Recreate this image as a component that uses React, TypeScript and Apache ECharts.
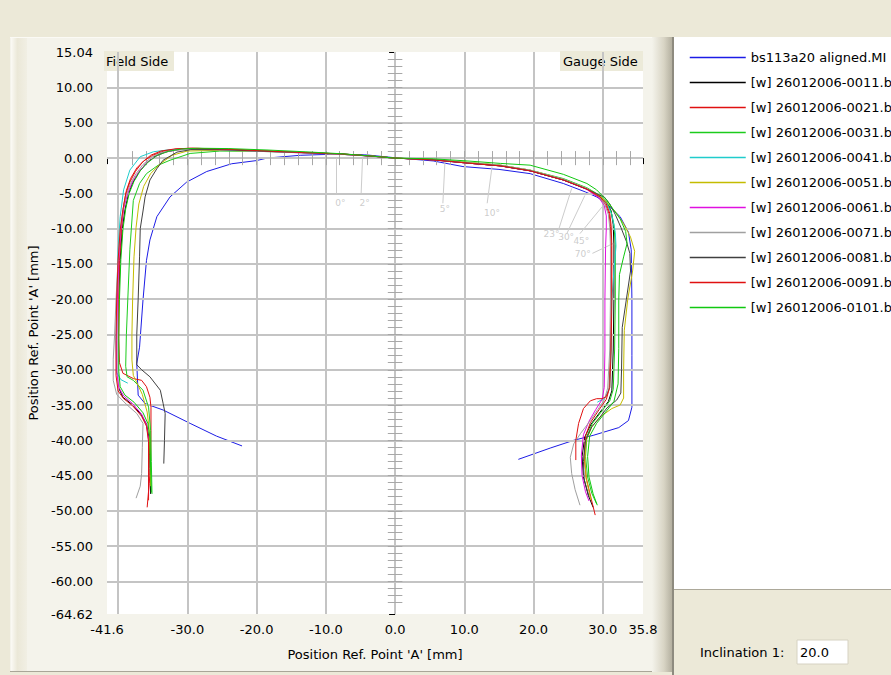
import React, { useEffect, useRef } from "react";
import * as echarts from "echarts";

const FONT = "'DejaVu Sans', sans-serif";

const xTickLabels = [-41.6, -30, -20, -10, 0, 10, 20, 30, 35.8];
const yTickLabels = [15.04, 10, 5, 0, -5, -10, -15, -20, -25, -30, -35, -40, -45, -50, -55, -60, -64.62];
const xGridLines = [-40, -30, -20, -10, 0, 10, 20, 30];
const yGridLines = [10, 5, 0, -5, -10, -15, -20, -25, -30, -35, -40, -45, -50, -55, -60];

const seriesNames = [
  "bs113a20 aligned.MI",
  "[w] 26012006-0011.b",
  "[w] 26012006-0021.b",
  "[w] 26012006-0031.b",
  "[w] 26012006-0041.b",
  "[w] 26012006-0051.b",
  "[w] 26012006-0061.b",
  "[w] 26012006-0071.b",
  "[w] 26012006-0081.b",
  "[w] 26012006-0091.b",
  "[w] 26012006-0101.b",
];
const seriesColors = ["#1c1ce6", "#000000", "#e01010", "#1ccc1c", "#20cccc", "#c4bc00", "#e010e0", "#a0a0a0", "#404040", "#e01010", "#10c810"];

const profileRef = [[-22.1,-40.8],[-25.8,-39.4],[-29.6,-37.6],[-33.5,-35.7],[-36.1,-34.8],[-37.1,-33.6],[-37.3,-29.1],[-36.9,-26.8],[-36.4,-20.1],[-35.9,-14.5],[-35.4,-11.6],[-34.4,-8.3],[-32.5,-5.5],[-30.1,-3.4],[-27.2,-1.9],[-23.6,-0.8],[-20.0,-0.35],[-18.5,0.0],[-13.7,0.4],[-9.0,0.55],[-4.1,0.45],[0,0.05],[5.5,-0.4],[9.8,-1.2],[15.0,-1.6],[19.5,-2.2],[24.3,-3.6],[27.5,-4.8],[29.1,-5.5],[30.3,-6.2],[32.5,-8.3],[33.7,-10.5],[34.1,-13.0],[34.2,-20.1],[34.2,-28.0],[34.2,-35.3],[33.7,-37.2],[32.3,-38.2],[28.6,-39.3],[25.8,-40.0],[22.4,-41.1],[17.8,-42.7]];
const profile0011 = [[-35.3,-47.6],[-35.4,-44.0],[-35.5,-39.8],[-35.9,-37.7],[-36.7,-36.3],[-38.0,-34.9],[-39.3,-33.9],[-39.9,-32.6],[-40.0,-30.5],[-40.0,-25.6],[-39.9,-20.0],[-39.7,-14.4],[-39.4,-10.1],[-39.0,-7.3],[-38.5,-5.1],[-37.9,-3.5],[-37.0,-2.0],[-36.0,-0.8],[-34.8,0.2],[-33.4,0.8],[-31.5,1.2],[-29.4,1.3],[-25.1,1.2],[-19.4,1.0],[-13.6,0.8],[-7.8,0.6],[-3.5,0.3],[0,0],[5.5,-0.2],[10.4,-0.7],[15.2,-1.1],[19.5,-1.8],[24.3,-3.1],[27.8,-4.4],[29.7,-5.5],[30.6,-6.3],[31.2,-7.5],[31.5,-9.4],[31.6,-12.3],[31.6,-20.1],[31.5,-27.2],[31.3,-33.0],[30.8,-34.5],[29.6,-36.0],[28.3,-37.7],[27.4,-39.5],[27.0,-42.3],[27.2,-45.2],[27.9,-47.8],[28.6,-49.5]];
const profile0021 = [[-35.8,-49.5],[-35.5,-46.1],[-35.3,-43.3],[-35.25,-38.6],[-35.25,-35.3],[-35.4,-33.9],[-35.9,-32.4],[-36.6,-31.5],[-37.8,-31.25],[-39.3,-30.5],[-39.8,-29.0],[-39.9,-25.5],[-39.9,-20.0],[-39.8,-14.5],[-39.5,-10.0],[-39.2,-6.8],[-38.8,-4.6],[-38.2,-2.9],[-37.3,-1.4],[-36.3,-0.4],[-35.0,0.4],[-33.4,1.0],[-31.5,1.3],[-29.3,1.4],[-25.0,1.3],[-19.5,1.05],[-13.7,0.8],[-7.9,0.55],[-3.6,0.3],[0,0],[5.5,-0.25],[10.4,-0.7],[15.2,-1.1],[19.5,-1.8],[24.3,-3.1],[27.7,-4.4],[29.5,-5.6],[30.4,-6.6],[30.9,-7.9],[31.1,-9.7],[31.2,-12.5],[31.2,-20.1],[31.1,-27.2],[30.9,-32.8],[30.5,-34.2],[29.5,-35.6],[28.2,-37.5],[27.5,-39.4],[27.3,-42.2],[27.6,-45.3],[28.3,-48.2],[28.9,-50.6]];
const profile0031 = [[-35.1,-47.6],[-35.2,-43.0],[-35.3,-38.6],[-35.6,-35.3],[-36.4,-32.9],[-37.8,-31.5],[-38.7,-31.0],[-38.9,-29.5],[-38.8,-25.0],[-38.6,-20.1],[-38.3,-13.0],[-37.8,-6.0],[-36.9,-3.6],[-35.9,-2.2],[-34.2,-1.0],[-32.5,-0.3],[-29.6,0.66],[-25.3,1.0],[-19.5,0.95],[-13.7,0.8],[-7.9,0.55],[-3.6,0.3],[0,0],[5.5,-0.2],[10.4,-0.6],[15.2,-1.0],[19.5,-1.7],[24.3,-2.9],[27.7,-4.2],[29.6,-5.3],[30.6,-6.3],[31.2,-7.6],[31.6,-9.4],[31.8,-12.3],[31.8,-20.1],[31.7,-27.2],[31.5,-32.8],[31.0,-34.4],[29.9,-35.8],[28.5,-37.6],[27.7,-39.4],[27.5,-42.3],[27.8,-45.2],[28.4,-47.5],[29.1,-49.0]];
const profile0041 = [[-38.6,-31.9],[-39.6,-31.4],[-40.2,-30.4],[-40.3,-25.8],[-40.2,-20.1],[-40.0,-13.0],[-39.7,-8.3],[-39.2,-4.5],[-38.3,-1.7],[-36.8,0.2],[-34.9,0.9],[-32.5,1.2],[-29.5,1.3],[-25.2,1.2],[-19.5,1.0],[-13.7,0.8],[-7.9,0.55],[-3.6,0.3],[0,0],[5.5,-0.2],[10.4,-0.65],[15.2,-1.05],[19.5,-1.75],[24.3,-3.0],[27.7,-4.3],[29.6,-5.4],[30.6,-6.5],[31.3,-8.0],[31.8,-10.5],[31.9,-12.5],[31.6,-16.0],[31.3,-20.1],[31.2,-27.2],[31.0,-32.5],[30.3,-34.0],[29.2,-34.6]];
const profile0051 = [[-35.3,-46.5],[-35.4,-42.0],[-35.5,-38.5],[-35.8,-36.0],[-36.5,-33.5],[-37.4,-31.6],[-37.8,-30.8],[-38.0,-28.6],[-38.0,-25.0],[-37.9,-20.1],[-37.7,-14.0],[-37.4,-9.8],[-37.0,-6.5],[-36.3,-4.0],[-35.3,-2.2],[-33.9,-0.8],[-32.2,0.4],[-30.0,1.0],[-25.3,1.1],[-19.5,1.0],[-13.7,0.78],[-7.9,0.57],[-3.6,0.3],[0,0],[5.5,-0.2],[10.4,-0.6],[15.2,-1.0],[19.5,-1.7],[24.3,-3.0],[27.7,-4.3],[29.6,-5.4],[30.7,-6.4],[31.8,-7.6],[33.0,-9.3],[34.0,-11.2],[34.6,-13.2],[34.3,-16.0],[33.6,-20.0],[33.1,-24.4],[33.0,-30.0],[33.0,-34.0],[32.5,-35.0],[31.3,-35.5],[29.6,-36.7],[28.4,-38.1],[27.6,-40.0],[27.4,-42.8],[27.6,-45.5],[28.3,-48.5]];
const profile0061 = [[-35.6,-47.9],[-35.6,-44.1],[-35.6,-39.9],[-35.9,-37.7],[-36.6,-36.3],[-37.9,-34.8],[-39.2,-33.7],[-39.9,-32.5],[-40.2,-30.3],[-40.2,-25.7],[-40.1,-20.0],[-39.9,-14.4],[-39.6,-10.1],[-39.2,-7.2],[-38.6,-5.0],[-37.9,-3.3],[-36.9,-1.8],[-35.8,-0.6],[-34.5,0.3],[-33.0,0.9],[-31.1,1.2],[-29.2,1.3],[-25.2,1.2],[-19.5,1.0],[-13.7,0.75],[-7.9,0.55],[-3.6,0.28],[0,0],[5.5,-0.25],[10.4,-0.7],[15.2,-1.1],[19.5,-1.8],[24.3,-3.1],[27.6,-4.4],[29.4,-5.6],[30.2,-6.7],[30.5,-8.2],[30.5,-10.0],[30.4,-12.5],[30.3,-20.1],[30.3,-27.2],[30.2,-32.5],[29.9,-34.2],[29.0,-35.6],[28.0,-37.3],[27.2,-39.2],[26.9,-42.1],[27.0,-45.0],[27.5,-47.3],[28.0,-48.6]];
const profile0071 = [[-37.4,-48.2],[-36.8,-46.5],[-36.6,-44.7],[-36.5,-41.0],[-36.4,-37.6],[-37.3,-36.2],[-38.8,-34.9],[-40.2,-33.5],[-40.7,-31.5],[-40.7,-28.5],[-40.5,-25.0],[-40.3,-20.1],[-40.0,-14.5],[-39.7,-10.2],[-39.3,-7.3],[-38.8,-5.2],[-38.2,-3.6],[-37.4,-2.2],[-36.4,-0.9],[-35.2,0.1],[-33.8,0.8],[-31.9,1.1],[-29.7,1.25],[-25.3,1.15],[-19.5,0.95],[-13.7,0.75],[-7.9,0.55],[-3.6,0.3],[0,0],[5.5,-0.2],[10.4,-0.65],[15.2,-1.0],[19.5,-1.7],[24.3,-3.0],[27.7,-4.3],[29.5,-5.5],[30.3,-6.6],[30.8,-8.0],[31.0,-9.8],[31.1,-12.4],[31.1,-20.1],[31.0,-27.2],[30.7,-32.6],[30.2,-34.3],[29.3,-35.6],[28.2,-37.2],[26.8,-39.0],[25.8,-40.5],[25.3,-42.4],[25.5,-44.7],[26.0,-47.0],[26.7,-49.2]];
const profile0081 = [[-33.4,-43.3],[-33.3,-40.0],[-33.2,-36.2],[-33.5,-34.75],[-33.9,-32.9],[-35.4,-31.0],[-36.6,-30.0],[-37.3,-29.3],[-37.3,-25.0],[-37.1,-20.0],[-36.9,-14.0],[-36.8,-10.0],[-36.4,-7.5],[-36.1,-5.5],[-35.4,-3.1],[-34.4,-1.5],[-33.5,-0.3],[-31.5,0.85],[-29.5,1.2],[-25.3,1.2],[-19.5,1.0],[-13.7,0.8],[-7.9,0.6],[-3.6,0.3],[0,0],[5.5,-0.25],[10.4,-0.7],[15.2,-1.1],[19.5,-1.8],[24.3,-3.1],[27.7,-4.4],[29.4,-5.2],[30.2,-5.5],[31.0,-6.5],[31.8,-8.0],[32.6,-9.8],[33.4,-11.8],[33.9,-13.5],[34.0,-16.0],[33.4,-20.0],[32.8,-24.0],[32.7,-30.0],[32.6,-33.3],[32.0,-34.3],[30.6,-35.4],[29.6,-36.7],[28.4,-38.1],[27.5,-40.0],[27.2,-43.0],[27.3,-45.5],[28.0,-48.0]];
const profile0091 = [[-35.6,-48.5],[-35.6,-44.5],[-35.6,-40.2],[-35.9,-38.0],[-36.6,-36.6],[-37.9,-35.1],[-39.2,-34.1],[-40.0,-33.0],[-40.3,-30.8],[-40.3,-25.8],[-40.2,-20.1],[-40.0,-14.5],[-39.7,-10.2],[-39.3,-7.3],[-38.9,-5.1],[-38.3,-3.4],[-37.5,-1.9],[-36.5,-0.6],[-35.3,0.4],[-33.8,1.0],[-31.8,1.3],[-29.6,1.4],[-25.3,1.3],[-19.5,1.05],[-13.7,0.8],[-7.9,0.6],[-3.6,0.3],[0,0],[5.5,-0.25],[10.4,-0.7],[15.2,-1.1],[19.5,-1.8],[24.3,-3.1],[27.7,-4.4],[29.6,-5.5],[30.5,-6.5],[31.0,-7.8],[31.2,-9.6],[31.3,-12.4],[31.3,-20.1],[31.2,-27.2],[31.0,-32.5],[30.5,-33.8],[29.9,-34.1],[29.1,-34.1],[28.2,-34.4],[27.2,-35.5],[26.5,-37.6],[26.1,-40.0],[26.1,-42.8]];
const profile0101 = [[-35.2,-47.4],[-35.3,-43.8],[-35.4,-39.7],[-35.7,-37.6],[-36.4,-36.1],[-37.7,-34.6],[-39.0,-33.6],[-39.7,-32.4],[-39.9,-30.2],[-39.9,-25.6],[-39.8,-20.0],[-39.6,-14.4],[-39.3,-10.1],[-38.9,-7.2],[-38.4,-5.0],[-37.7,-3.3],[-36.8,-1.8],[-35.7,-0.6],[-34.4,0.35],[-32.8,0.95],[-30.8,1.3],[-28.5,1.4],[-24.0,1.35],[-18.5,1.15],[-13.0,0.9],[-7.5,0.6],[-3.5,0.3],[0,0],[5.5,-0.1],[10.4,-0.4],[15.2,-0.75],[19.5,-1.0],[24.3,-2.3],[27.7,-3.6],[29.1,-4.5],[30.6,-6.0],[31.6,-7.4],[32.5,-8.6],[33.3,-10.4],[33.5,-12.1],[33.0,-14.0],[32.4,-16.5],[32.3,-20.1],[32.3,-27.0],[32.2,-32.0],[31.6,-34.5],[30.4,-36.0],[29.1,-37.6],[28.1,-39.4],[27.8,-42.3],[28.0,-45.2],[28.6,-47.6],[29.2,-49.2]];

const profiles = [profileRef, profile0011, profile0021, profile0031, profile0041, profile0051, profile0061, profile0071, profile0081, profile0091, profile0101];

const angleLabels = ["0°", "2°", "5°", "10°", "23°", "30°", "45°", "70°"];
const angleAnchors = [[-8.5, 0.0], [-4.7, 0.0], [7.2, -0.5], [14.0, -1.2], [25.5, -4.3], [27.4, -5.3], [29.9, -6.9], [31.5, -12.1]];
const angleLeaderEnds = [[-8.5, -5.0], [-4.9, -5.0], [6.9, -6.4], [13.3, -6.4], [23.6, -10.2], [24.8, -10.7], [26.7, -10.7], [28.5, -13.5]];
const anglePositions = [[-7.9, -6.3], [-4.4, -6.3], [7.2, -7.2], [14.0, -7.8], [22.6, -10.8], [24.7, -11.2], [26.9, -11.7], [27.1, -13.6]];

function buildOption() {
  const centerTicks: any[] = [];
  for (let v = 14; v >= -63; v--) centerTicks.push([{ coord: [-1.05, v] }, { coord: [1.05, v] }]);
  for (let v = -38; v <= 34; v += 2) centerTicks.push([{ coord: [v, 1.0] }, { coord: [v, -1.0] }]);

  const axisText = { color: "#000", fontSize: 13, fontFamily: FONT };

  const series: any[] = [
    {
      type: "line",
      data: [],
      silent: true,
      z: 1,
      markLine: {
        silent: true,
        symbol: ["none", "none"],
        label: { show: false },
        lineStyle: { color: "#c4c4c4", width: 2, type: "solid" },
        data: [...xGridLines.map((v) => ({ xAxis: v })), ...yGridLines.map((v) => ({ yAxis: v }))],
      },
    },
    {
      type: "line",
      data: [],
      silent: true,
      z: 2,
      markLine: {
        silent: true,
        symbol: ["none", "none"],
        label: { show: false },
        lineStyle: { color: "#a8a8a8", width: 1, type: "solid" },
        data: centerTicks,
      },
    },
    {
      type: "line",
      data: [],
      silent: true,
      z: 2,
      markLine: {
        silent: true,
        symbol: ["none", "none"],
        label: { show: false },
        lineStyle: { color: "#cccccc", width: 1, type: "solid" },
        data: angleAnchors.map((a, i) => [{ coord: a }, { coord: angleLeaderEnds[i] }]),
      },
    },
    {
      type: "scatter",
      silent: true,
      z: 2,
      symbolSize: 0,
      data: anglePositions.map((p, i) => [p[0], p[1], angleLabels[i]]),
      label: {
        show: true,
        position: "inside",
        formatter: (p: any) => p.data[2],
        color: "#c0c0c0",
        fontSize: 9,
        fontFamily: FONT,
      },
    },
  ];

  profiles.forEach((d, i) => {
    series.push({
      name: seriesNames[i],
      type: "line",
      data: d,
      symbol: "none",
      showSymbol: false,
      silent: true,
      z: 3 + i,
      lineStyle: { color: seriesColors[i], width: 1 },
      itemStyle: { color: seriesColors[i] },
    });
  });

  return {
    animation: false,
    backgroundColor: "transparent",
    textStyle: { fontFamily: FONT },
    grid: { left: 107, top: 52, width: 536, height: 562, show: true, backgroundColor: "#ffffff", borderWidth: 0 },
    xAxis: {
      type: "value",
      min: -41.6,
      max: 35.8,
      offset: 1,
      splitLine: { show: false },
      axisLine: { show: false },
      axisTick: { show: true, length: 6, customValues: xTickLabels, lineStyle: { color: "#000" } },
      axisLabel: { customValues: xTickLabels, formatter: (v: number) => v.toFixed(1), margin: 8, ...axisText },
      name: "Position Ref. Point 'A' [mm]",
      nameLocation: "middle",
      nameGap: 33,
      nameTextStyle: axisText,
    },
    yAxis: {
      type: "value",
      min: -64.62,
      max: 15.04,
      offset: 3,
      splitLine: { show: false },
      axisLine: { show: false },
      axisTick: { show: true, length: 6, customValues: yTickLabels, lineStyle: { color: "#000" } },
      axisLabel: { customValues: yTickLabels, formatter: (v: number) => v.toFixed(2), margin: 11, ...axisText },
      name: "Position Ref. Point 'A' [mm]",
      nameLocation: "middle",
      nameGap: 60,
      nameTextStyle: axisText,
    },
    legend: {
      orient: "vertical",
      left: 689,
      top: 51,
      padding: 0,
      itemWidth: 56,
      itemHeight: 14,
      itemGap: 12,
      selectedMode: false,
      data: seriesNames,
      itemStyle: { opacity: 0, color: "transparent", borderWidth: 0 },
      lineStyle: { width: 1.5 },
      textStyle: { color: "#000", fontSize: 13, fontFamily: FONT },
    },
    graphic: [
      {
        type: "group",
        z: 100,
        children: [
          { type: "rect", shape: { x: 104, y: 51, width: 70, height: 20 }, style: { fill: "#ecead9" } },
          { type: "text", x: 106, y: 61, style: { text: "Field Side", fill: "#000", fontSize: 13, fontFamily: FONT, verticalAlign: "middle" } },
          { type: "rect", shape: { x: 560, y: 51, width: 83, height: 20 }, style: { fill: "#ecead9" } },
          { type: "text", x: 563, y: 61, style: { text: "Gauge Side", fill: "#000", fontSize: 13, fontFamily: FONT, verticalAlign: "middle" } },
          { type: "text", x: 700, y: 652, style: { text: "Inclination 1:", fill: "#000", fontSize: 13, fontFamily: FONT, verticalAlign: "middle" } },
          { type: "rect", shape: { x: 797, y: 640, width: 51, height: 24 }, style: { fill: "#ffffff", stroke: "#d6d2c2", lineWidth: 1 } },
          { type: "text", x: 800, y: 652, style: { text: "20.0", fill: "#000", fontSize: 13, fontFamily: FONT, verticalAlign: "middle" } },
        ],
      },
    ],
    series,
  };
}

export default function App() {
  const ref = useRef<HTMLDivElement>(null);
  useEffect(() => {
    if (!ref.current) return;
    const chart = echarts.init(ref.current, null, { renderer: "svg" });
    chart.setOption(buildOption() as any);
    return () => chart.dispose();
  }, []);

  const abs = (s: any) => ({ position: "absolute" as const, ...s });
  return (
    <div style={{ position: "fixed", left: 0, top: 0, width: 891, height: 675, background: "#ECE9D8", overflow: "hidden" }}>
      <div style={abs({ left: 10, top: 37, width: 662, height: 634, background: "#f4f3eb", borderTop: "1px solid #fbfaf5" })} />
      <div style={abs({ left: 11, top: 38, width: 16, height: 633, background: "linear-gradient(to right, #fbfaf5, #ebe8d8 40%, #f1efe4)" })} />
      <div style={abs({ left: 10, top: 671, width: 662, height: 1, background: "#a9a698" })} />
      <div style={abs({ left: 652, top: 37, width: 20, height: 635, background: "linear-gradient(to right, #f4f3eb, #d8d4c4 60%, #b4b0a0)" })} />
      <div style={abs({ left: 672, top: 37, width: 2, height: 638, background: "#8e8b7f" })} />
      <div style={abs({ left: 674, top: 37, width: 217, height: 552, background: "#ffffff" })} />
      <div style={abs({ left: 674, top: 589, width: 217, height: 1, background: "#aca899" })} />
      <div ref={ref} style={abs({ left: 0, top: 0, width: 891, height: 675 })} />
    </div>
  );
}
